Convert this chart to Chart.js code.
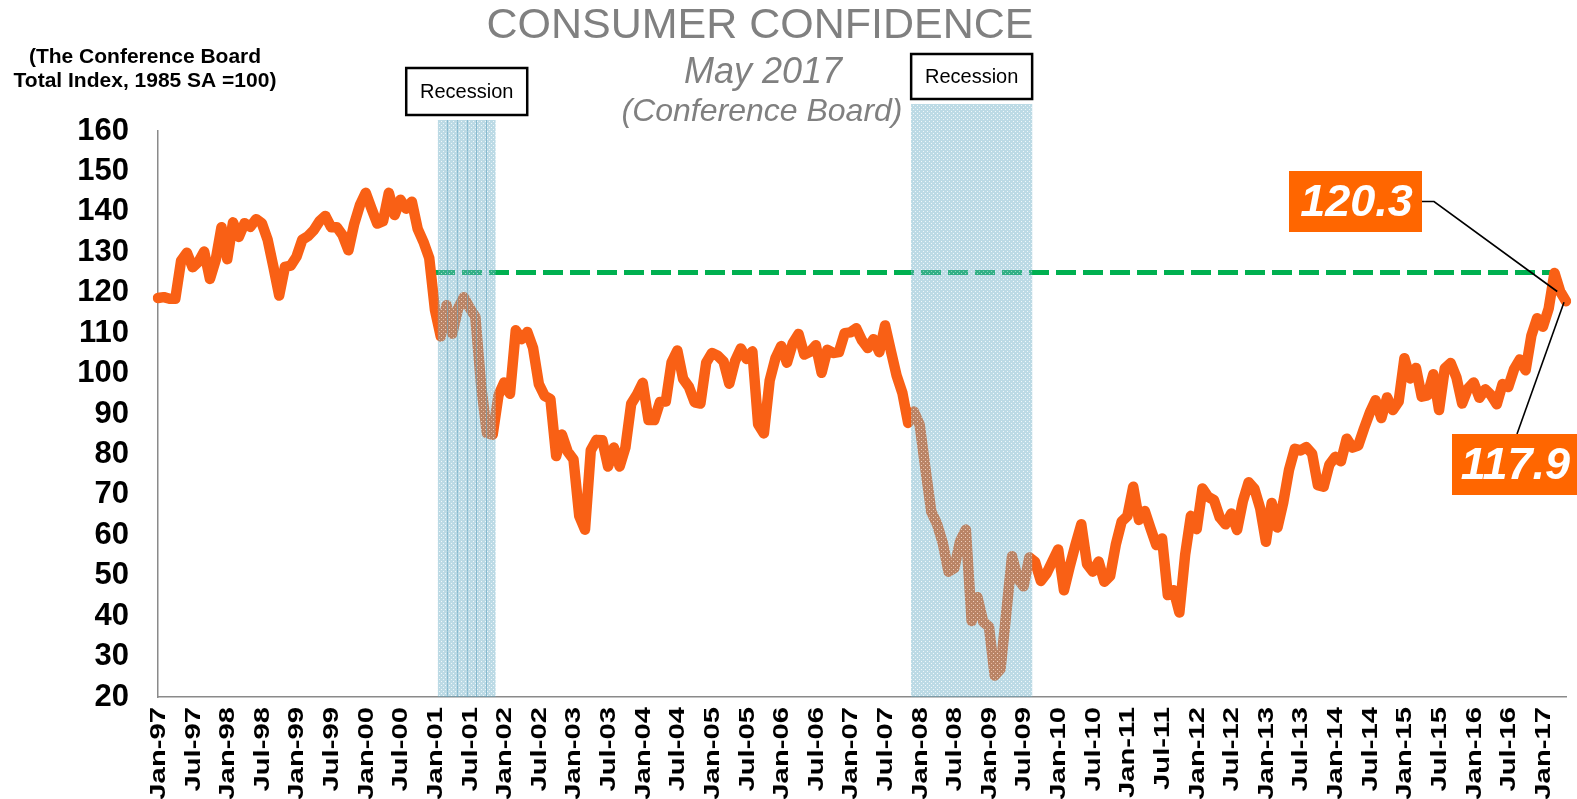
<!DOCTYPE html>
<html>
<head>
<meta charset="utf-8">
<script src="https://cdn.jsdelivr.net/npm/chart.js@4.4.1/dist/chart.umd.min.js"></script>
<style>
  html, body { margin: 0; padding: 0; background: #ffffff; }
  #wrap { width: 1577px; height: 799px; position: relative; }
  canvas { display: block; }
</style>
</head>
<body>
<div id="wrap"><canvas id="c" width="1577" height="799"></canvas></div>
<script>
// ---------------- DATA ----------------
const monthNames = ['Jan','Feb','Mar','Apr','May','Jun','Jul','Aug','Sep','Oct','Nov','Dec'];
const y1997 = [118.7,118.9,118.5,118.5,127.9,129.9,126.3,127.6,130.2,123.4,128.1,136.2];
const y1998 = [128.3,137.4,133.8,137.2,136.3,138.2,137.2,133.1,126.4,119.3,126.4,126.7];
const y1999 = [128.9,133.1,134.0,135.5,137.7,139.0,136.2,136.2,134.2,130.5,137.0,141.7];
const y2000 = [144.7,140.8,137.1,137.7,144.7,139.2,143.0,140.8,142.5,135.8,132.6,128.6];
const y2001 = [115.7,109.2,116.9,109.9,116.1,118.9,116.3,114.0,97.0,85.3,84.9,94.6];
const y2002 = [97.8,95.0,110.7,108.5,110.3,106.3,97.4,94.5,93.7,79.6,84.9,80.7];
const y2003 = [78.8,64.8,61.4,81.0,83.6,83.5,77.0,81.7,77.0,81.7,92.5,94.8];
const y2004 = [97.7,88.5,88.5,93.0,93.1,102.8,105.7,98.7,96.7,92.9,92.6,102.7];
const y2005 = [105.1,104.4,103.0,97.5,103.1,106.2,103.6,105.5,87.5,85.2,98.3,103.8];
const y2006 = [106.8,102.7,107.5,109.8,104.7,105.4,107.0,100.2,105.9,105.1,105.3,110.0];
const y2007 = [110.2,111.2,108.2,106.3,108.5,105.3,111.9,105.6,99.5,95.2,87.8,90.6];
const y2008 = [87.3,76.4,65.9,62.8,58.1,51.0,51.9,58.5,61.4,38.8,44.7,38.6];
const y2009 = [37.4,25.3,26.9,40.8,54.8,49.3,47.4,54.5,53.4,48.7,50.6,53.6];
const y2010 = [56.5,46.4,52.3,57.7,62.7,52.9,51.0,53.5,48.5,49.9,57.8,63.4];
const y2011 = [64.8,72.0,63.8,66.0,61.7,57.6,59.2,45.2,46.4,40.9,55.2,64.8];
const y2012 = [61.5,71.6,69.5,68.7,64.4,62.7,65.4,61.3,68.4,73.1,71.5,66.7];
const y2013 = [58.4,68.0,61.9,68.1,76.2,81.4,81.0,81.8,80.2,72.4,72.0,77.5];
const y2014 = [79.4,78.3,83.9,81.7,82.2,86.4,90.3,93.4,89.0,94.1,91.0,93.1];
const y2015 = [103.8,98.8,101.4,94.3,94.6,99.8,91.0,101.3,102.6,99.1,92.6,96.3];
const y2016 = [97.8,94.0,96.1,94.7,92.4,97.4,96.7,101.1,103.5,100.8,109.4,113.7];
const y2017 = [111.6,116.1,124.9,120.3,117.9];
const yearLists = [y1997,y1998,y1999,y2000,y2001,y2002,y2003,y2004,y2005,y2006,y2007,
                   y2008,y2009,y2010,y2011,y2012,y2013,y2014,y2015,y2016,y2017];
const firstYear = 1997;

const confidence = [].concat(...yearLists);
const labels = [];
yearLists.forEach((arr, yi) => {
  const yy = String((firstYear + yi) % 100).padStart(2, '0');
  arr.forEach((v, mi) => labels.push(monthNames[mi] + '-' + yy));
});
const shownMonths = ['Jan', 'Jul'];

// reference level (dashed green) and its span
const refLevel = 125;
const refStart = 'Jan-01';
const refEnd = 'Mar-17';
const refSeries = labels.map((l, i) =>
  (i >= labels.indexOf(refStart) && i <= labels.indexOf(refEnd)) ? refLevel : null);

// recessions (first and last month)
const recessions = [['Feb-01', 'Nov-01'], ['Dec-07', 'Aug-09']];
const recessionText = 'Recession';

// callouts
const callouts = ['Apr-17', 'May-17'];

const yTitleLines = ['(The Conference Board', 'Total Index, 1985 SA =100)'];
const titleText = 'CONSUMER CONFIDENCE';
const subTitle1 = 'May 2017';
const subTitle2 = '(Conference Board)';

// ---------------- STYLE ----------------
const FONT = '"Liberation Sans", Arial, Helvetica, sans-serif';
const LINE_COLOR = '#F96015';
const BOX_COLOR = '#FF6600';

function makePattern(ctx) {
  const pc = document.createElement('canvas');
  pc.width = 4; pc.height = 4;
  const p = pc.getContext('2d');
  p.fillStyle = 'rgba(108,175,198,0.46)';
  p.fillRect(0, 0, 4, 4);
  p.clearRect(1, 1, 1, 1);
  p.fillStyle = 'rgba(235,245,248,0.75)';
  p.fillRect(1, 1, 1, 1);
  p.clearRect(3, 3, 1, 1);
  p.fillStyle = 'rgba(225,240,245,0.6)';
  p.fillRect(3, 3, 1, 1);
  return ctx.createPattern(pc, 'repeat');
}

const recessionRise = [11, 27];      // how far the shading rises above the plot top
const recessionBoxH = [47, 45];
const recessionBoxGap = 5;

const overlayPlugin = {
  id: 'overlay',
  afterDatasetsDraw(chart) {
    const { ctx, chartArea, scales: { x } } = chart;
    const step = x.getPixelForValue(1) - x.getPixelForValue(0);
    const pattern = makePattern(ctx);
    ctx.save();
    recessions.forEach((r, k) => {
      const i0 = labels.indexOf(r[0]), i1 = labels.indexOf(r[1]);
      const left = x.getPixelForValue(i0) - step / 2;
      const right = x.getPixelForValue(i1) + step / 2;
      const top = chartArea.top - recessionRise[k];
      const bottom = chartArea.bottom;
      ctx.fillStyle = pattern;
      ctx.fillRect(left, top, right - left, bottom - top);
      if (k === 0) {
        ctx.strokeStyle = 'rgba(95,160,190,0.55)';
        ctx.lineWidth = 1;
        const n = 6;
        for (let j = 1; j < n; j++) {
          const xx = Math.round(left + (right - left) * j / n) + 0.5;
          ctx.beginPath(); ctx.moveTo(xx, top); ctx.lineTo(xx, bottom); ctx.stroke();
        }
      }
      // label box
      const cx = (left + right) / 2;
      const bw = 121, bh = recessionBoxH[k];
      const by = top - recessionBoxGap - bh;
      ctx.fillStyle = '#ffffff';
      ctx.fillRect(cx - bw / 2, by, bw, bh);
      ctx.strokeStyle = '#000000';
      ctx.lineWidth = 2.5;
      ctx.strokeRect(cx - bw / 2, by, bw, bh);
      ctx.fillStyle = '#000000';
      ctx.font = '20px ' + FONT;
      ctx.textAlign = 'center';
      ctx.textBaseline = 'middle';
      ctx.fillText(recessionText, cx, by + bh / 2 + 1);
    });
    ctx.restore();
  },
  afterDraw(chart) {
    const { ctx, chartArea, scales: { x } } = chart;
    const meta = chart.getDatasetMeta(0);
    ctx.save();
    // x tick labels (rotated, slightly elongated like the reference)
    ctx.fillStyle = '#000000';
    ctx.font = 'bold 21.5px ' + FONT;
    ctx.textAlign = 'right';
    ctx.textBaseline = 'middle';
    labels.forEach((l, i) => {
      if (!shownMonths.includes(l.slice(0, 3))) return;
      const px = x.getPixelForValue(i);
      ctx.save();
      ctx.translate(px + 1, chartArea.bottom + 10);
      ctx.rotate(-Math.PI / 2);
      ctx.scale(1.36, 1);
      ctx.fillText(l, 0, 0);
      ctx.restore();
    });

    // titles
    ctx.textAlign = 'center';
    ctx.textBaseline = 'middle';
    ctx.fillStyle = '#808080';
    ctx.font = '43px ' + FONT;
    ctx.fillText(titleText, 760, 26);
    ctx.font = 'italic 36px ' + FONT;
    ctx.fillText(subTitle1, 763, 73);
    ctx.font = 'italic 32px ' + FONT;
    ctx.fillText(subTitle2, 762, 112);
    // y axis title
    ctx.fillStyle = '#000000';
    ctx.font = 'bold 21px ' + FONT;
    ctx.fillText(yTitleLines[0], 145, 57);
    ctx.fillText(yTitleLines[1], 145, 81);

    // callouts
    const boxes = [
      { x: 1289, y: 171, w: 133, h: 61, line: 'side' },
      { x: 1452, y: 434, w: 125, h: 61, line: 'top' }
    ];
    callouts.forEach((lab, k) => {
      const idx = labels.indexOf(lab);
      const pt = meta.data[idx];
      const b = boxes[k];
      ctx.strokeStyle = '#000000';
      ctx.lineWidth = 1.6;
      ctx.beginPath();
      if (b.line === 'side') {
        const my = b.y + b.h / 2;
        ctx.moveTo(b.x + b.w, my);
        ctx.lineTo(b.x + b.w + 12, my);
        ctx.lineTo(pt.x - 3, pt.y);
      } else {
        ctx.moveTo(1517, b.y);
        ctx.lineTo(pt.x - 2, pt.y + 1);
      }
      ctx.stroke();
      ctx.fillStyle = BOX_COLOR;
      ctx.fillRect(b.x, b.y, b.w, b.h);
      ctx.fillStyle = '#ffffff';
      ctx.font = 'italic bold 45px ' + FONT;
      ctx.textAlign = 'center';
      ctx.textBaseline = 'middle';
      ctx.fillText(confidence[idx].toFixed(1), b.x + b.w / 2 + 1, b.y + b.h / 2 + 2);
    });
    ctx.restore();
  }
};

const ctx = document.getElementById('c').getContext('2d');
new Chart(ctx, {
  type: 'line',
  data: {
    labels: labels,
    datasets: [
      {
        data: confidence,
        borderColor: LINE_COLOR,
        borderWidth: 10.5,
        pointRadius: 0,
        tension: 0,
        borderJoinStyle: 'round',
        borderCapStyle: 'round',
        fill: false,
        order: 1
      },
      {
        data: refSeries,
        borderColor: '#00B050',
        borderWidth: 5,
        borderDash: [20, 7],
        borderCapStyle: 'butt',
        pointRadius: 0,
        tension: 0,
        spanGaps: false,
        fill: false,
        order: 2
      }
    ]
  },
  options: {
    responsive: false,
    animation: false,
    events: [],
    layout: { padding: { top: 131, right: 11, bottom: 0, left: 0 } },
    plugins: { legend: { display: false }, tooltip: { enabled: false }, title: { display: false } },
    scales: {
      x: {
        type: 'category',
        offset: false,
        grid: { display: false, drawTicks: false },
        border: { display: true, color: '#8a8a8a', width: 1.5 },
        ticks: { display: false, autoSkip: false },
        afterFit(s) { s.height = 102; s.paddingLeft = 0; s.paddingRight = 0; }
      },
      y: {
        min: 20,
        max: 160,
        grid: { display: false, drawTicks: false },
        border: { display: true, color: '#8a8a8a', width: 1.5 },
        ticks: {
          stepSize: 10,
          padding: 29,
          color: '#000000',
          font: { family: FONT, size: 31, weight: 'bold' }
        },
        afterFit(s) { s.width = 158; s.paddingTop = 0; s.paddingBottom = 0; }
      }
    }
  },
  plugins: [overlayPlugin]
});
</script>
</body>
</html>
